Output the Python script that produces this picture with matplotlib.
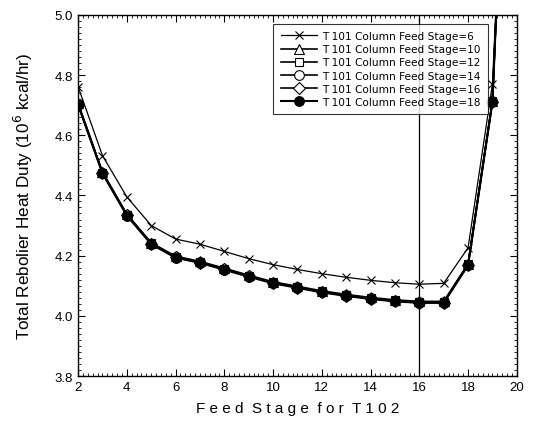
import matplotlib
matplotlib.use("Agg")
import matplotlib.pyplot as plt
from matplotlib.ticker import MultipleLocator

plt.rcParams['font.family'] = ['Liberation Sans', 'DejaVu Sans']

# feed stage for T102
stages = [2, 3, 4, 5, 6, 7, 8, 9, 10, 11, 12, 13, 14, 15, 16, 17, 18, 19, 20]

# total reboiler heat duty (10^6 kcal/hr), one series per T101 feed stage
duty_6 = [4.761, 4.532, 4.395, 4.300, 4.255, 4.238, 4.214, 4.190, 4.170, 4.154,
          4.140, 4.128, 4.118, 4.110, 4.105, 4.108, 4.226, 4.770, 6.50]
duty_10 = [4.706, 4.478, 4.338, 4.243, 4.198, 4.181, 4.158, 4.135, 4.113, 4.098,
           4.083, 4.071, 4.061, 4.053, 4.048, 4.048, 4.173, 4.715, 6.60]
duty_12 = [4.704, 4.476, 4.336, 4.241, 4.196, 4.179, 4.156, 4.133, 4.111, 4.096,
           4.081, 4.069, 4.059, 4.051, 4.046, 4.046, 4.171, 4.713, 6.60]
duty_14 = [4.703, 4.475, 4.335, 4.240, 4.195, 4.178, 4.155, 4.132, 4.110, 4.095,
           4.080, 4.068, 4.058, 4.050, 4.045, 4.045, 4.170, 4.712, 6.60]
duty_16 = [4.702, 4.474, 4.334, 4.239, 4.194, 4.177, 4.154, 4.131, 4.109, 4.094,
           4.079, 4.067, 4.057, 4.049, 4.044, 4.044, 4.169, 4.711, 6.60]
duty_18 = [4.701, 4.473, 4.333, 4.238, 4.193, 4.176, 4.153, 4.130, 4.108, 4.093,
           4.078, 4.066, 4.056, 4.048, 4.043, 4.043, 4.168, 4.710, 6.60]

labels = ["T 101 Column Feed Stage=6", "T 101 Column Feed Stage=10",
          "T 101 Column Feed Stage=12", "T 101 Column Feed Stage=14",
          "T 101 Column Feed Stage=16", "T 101 Column Feed Stage=18"]

fig = plt.figure(figsize=(5.35, 4.27), dpi=100)
ax = fig.add_axes([0.146, 0.117, 0.820, 0.846])

ax.plot(stages, duty_6, color='black', lw=0.9, marker='x', ms=6, mew=0.8, label=labels[0])
ax.plot(stages, duty_10, color='black', lw=1.2, marker='^', ms=7, mfc='white', mew=0.8, label=labels[1])
ax.plot(stages, duty_12, color='black', lw=1.2, marker='s', ms=6, mfc='white', mew=0.8, label=labels[2])
ax.plot(stages, duty_14, color='black', lw=1.2, marker='o', ms=7, mfc='white', mew=0.8, label=labels[3])
ax.plot(stages, duty_16, color='black', lw=1.2, marker='D', ms=6, mfc='white', mew=0.8, label=labels[4])
ax.plot(stages, duty_18, color='black', lw=1.5, marker='o', ms=7, mfc='black', mew=0.8, label=labels[5])

ax.axvline(16, color='black', lw=0.9)

ax.set_xlim(2, 20)
ax.set_ylim(3.8, 5.0)
ax.xaxis.set_major_locator(MultipleLocator(2))
ax.xaxis.set_minor_locator(MultipleLocator(0.2))
ax.yaxis.set_major_locator(MultipleLocator(0.2))
ax.yaxis.set_minor_locator(MultipleLocator(0.02))
ax.tick_params(which='both', direction='in', top=True, right=True, labelsize=9.5)
ax.tick_params(which='major', length=5, width=0.8)
ax.tick_params(which='minor', length=2.5, width=0.6)
ax.yaxis.set_major_formatter(matplotlib.ticker.FormatStrFormatter('%.1f'))
for s in ax.spines.values():
    s.set_linewidth(1.0)

ax.set_xlabel("F e e d  S t a g e  f o r  T 1 0 2", fontsize=11, labelpad=6)
ax.set_ylabel("Total Rebolier Heat Duty (10$^6$ kcal/hr)", fontsize=12.3, labelpad=14)

leg = ax.legend(loc='upper right', bbox_to_anchor=(0.946, 0.99),
                prop={'family': 'DejaVu Sans', 'size': 7.6},
                frameon=True, fancybox=False, edgecolor='black', handlelength=3.4,
                labelspacing=0.3, borderpad=0.7, handletextpad=0.5)
leg.get_frame().set_linewidth(0.8)

fig.savefig("out.png", dpi=100)
